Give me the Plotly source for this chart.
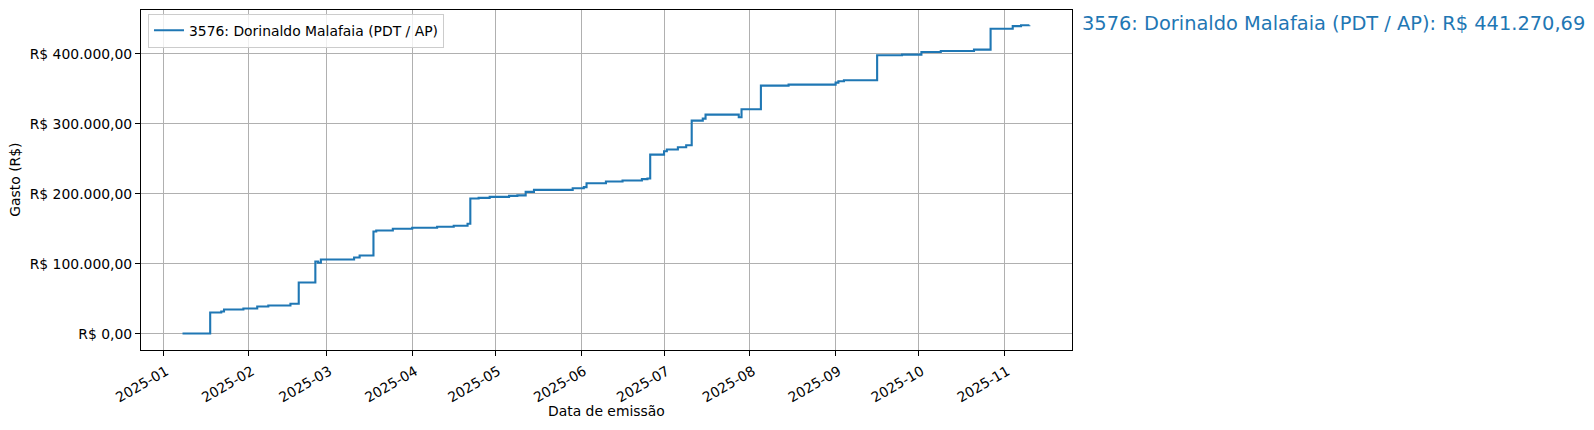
import plotly.graph_objs as go

# Gastos acumulados por data de emissão
datas = [
    "2025-01-08", "2025-01-18", "2025-01-22", "2025-01-23", "2025-01-30",
    "2025-02-04", "2025-02-08", "2025-02-16", "2025-02-19", "2025-02-25",
    "2025-02-26", "2025-02-27", "2025-03-11", "2025-03-13", "2025-03-18",
    "2025-03-19", "2025-03-25", "2025-04-01", "2025-04-10", "2025-04-16",
    "2025-04-21", "2025-04-22", "2025-04-25", "2025-04-29", "2025-05-06",
    "2025-05-09", "2025-05-12", "2025-05-15", "2025-05-29", "2025-06-02",
    "2025-06-03", "2025-06-10", "2025-06-16", "2025-06-23", "2025-06-25",
    "2025-06-26", "2025-07-01", "2025-07-02", "2025-07-06", "2025-07-09",
    "2025-07-11", "2025-07-15", "2025-07-16", "2025-07-28", "2025-07-29",
    "2025-07-29", "2025-08-05", "2025-08-15", "2025-09-01", "2025-09-02",
    "2025-09-04", "2025-09-16", "2025-09-25", "2025-10-02", "2025-10-09",
    "2025-10-21", "2025-10-27", "2025-11-04", "2025-11-07", "2025-11-10",
]
gasto_acumulado = [
    350, 30430, 31860, 34710, 36140,
    39000, 40430, 42860, 73290, 103290,
    101430, 106140, 109000, 111860, 146140,
    147570, 150000, 151430, 152860, 154290,
    157300, 193400, 194290, 195710, 197140,
    197800, 202860, 205710, 208100, 209570,
    215240, 217620, 219050, 221000, 221900,
    256140, 261000, 263500, 266670, 269530,
    304760, 307620, 313330, 309520, 316710,
    321000, 354760, 356190, 359050, 361000,
    362380, 398100, 399050, 402860, 404290,
    406190, 436000, 439900, 441000, 441270.69,
]
nome = "3576: Dorinaldo Malafaia (PDT / AP)"
total = 441270.69
yticks = [0, 100000, 200000, 300000, 400000]
xticks = ["2025-01-01", "2025-02-01", "2025-03-01", "2025-04-01", "2025-05-01",
          "2025-06-01", "2025-07-01", "2025-08-01", "2025-09-01", "2025-10-01",
          "2025-11-01"]


def brl(v):
    s = f"{v:,.2f}".replace(",", "X").replace(".", ",").replace("X", ".")
    return "R$ " + s


AZUL = "#1f77b4"
FONTE = "DejaVu Sans"

fig = go.Figure()
fig.add_trace(go.Scatter(x=datas, y=gasto_acumulado, mode="lines", name=nome,
                         line=dict(color=AZUL, width=2.1, shape="hv")))

# a página tem 8px de margem no body, por isso a figura é 8px menor
fig.update_layout(
    width=1586, height=422,
    margin=dict(l=133, r=522, t=2, b=80),
    paper_bgcolor="white", plot_bgcolor="white",
    font=dict(family=FONTE, size=13.9, color="black"),
    showlegend=True,
    legend=dict(x=0.0075, y=0.989, xanchor="left", yanchor="top",
                bgcolor="rgba(255,255,255,0.8)", bordercolor="#cccccc",
                borderwidth=1, font=dict(size=13.9)),
)
fig.update_xaxes(
    range=["2024-12-24", "2025-11-25 10:00"],
    tickvals=xticks, tickformat="%Y-%m", tickangle=-30,
    ticklabelstandoff=2, ticklabelshift=3,
    showgrid=True, gridcolor="#b0b0b0", gridwidth=1.1,
    showline=True, linecolor="black", linewidth=1.1, mirror=True,
    ticks="outside", ticklen=5, tickwidth=1.1, tickcolor="black",
    zeroline=False,
)
fig.update_yaxes(
    range=[-23300, 462900],
    tickvals=yticks, ticktext=[brl(v) for v in yticks],
    showgrid=True, gridcolor="#b0b0b0", gridwidth=1.1,
    showline=True, linecolor="black", linewidth=1.1, mirror=True,
    ticks="outside", ticklen=5, tickwidth=1.1, tickcolor="black",
    zeroline=False,
)

fig.add_annotation(text="Data de emissão", xref="paper", yref="paper",
                   x=0.5, y=0, yshift=-61.4, xanchor="center", yanchor="middle",
                   showarrow=False, font=dict(size=13.9))
fig.add_annotation(text="Gasto (R$)", xref="paper", yref="paper",
                   x=0, y=0.5, xshift=-126.3, textangle=-90,
                   xanchor="center", yanchor="middle",
                   showarrow=False, font=dict(size=13.9))
fig.add_annotation(text=f"{nome}: {brl(total)}", xref="paper", yref="paper",
                   x=1, y=0.9597, xshift=8.3, xanchor="left", yanchor="middle",
                   showarrow=False, font=dict(size=19.4, color=AZUL))

fig.write_html("out.html")
